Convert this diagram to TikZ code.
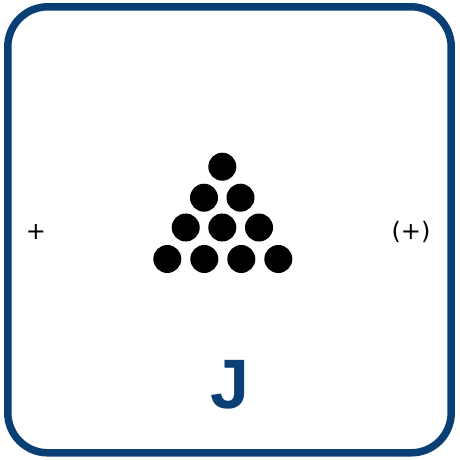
\documentclass[tikz,border=0pt]{standalone}
\usepackage{fontspec}
\setmainfont{Liberation Sans}
\newfontfamily\symfont{DejaVu Sans}
\definecolor{frameblue}{RGB}{10,63,117}
\begin{document}
\begin{tikzpicture}[x=1pt,y=-1pt,
  dot/.style={circle,fill=black,minimum size=28pt,inner sep=0pt},
  frame/.style={draw=frameblue,line width=7.5pt,rounded corners=40pt},
  sym/.style={font=\symfont\fontsize{24}{28}\selectfont,inner sep=0pt,anchor=base}]
\useasboundingbox (0,0) rectangle (459,460);
\draw[frame] (7.8,6.8) rectangle (451.2,452.8);
\node[dot] (d1) at (222.3,166.7) {};
\node[dot] (d21) at (204,197.7) {};
\node[dot] (d22) at (240.5,197.7) {};
\node[dot] (d31) at (185.7,227.5) {};
\node[dot] (d32) at (222.3,227.5) {};
\node[dot] (d33) at (259,227.5) {};
\node[dot] (d41) at (167.3,259) {};
\node[dot] (d42) at (204.3,259) {};
\node[dot] (d43) at (241.3,259) {};
\node[dot] (d44) at (278.3,259) {};
\node[sym] (plus) at (36,239) {+};
\node[sym] (pplus) at (411,239) {(+)};
\node[font=\fontsize{70}{70}\selectfont\bfseries,text=frameblue,inner sep=0pt,anchor=base] (J) at (230,408) {J};
\end{tikzpicture}
\end{document}
